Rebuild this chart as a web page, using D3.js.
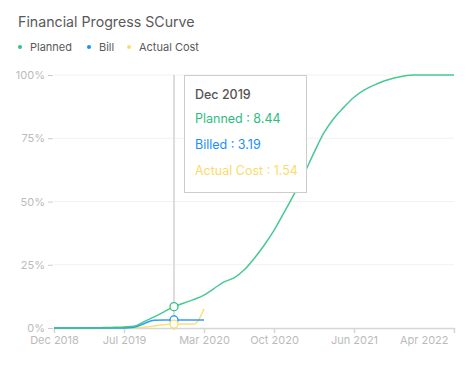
<!DOCTYPE html>
<html>
<head>
<meta charset="utf-8">
<script src="https://cdn.jsdelivr.net/npm/d3@7"></script>
<style>
  body { margin: 0; background: #fff; font-family: Inter, "Noto Sans", sans-serif; }
  svg text { font-family: Inter, "Noto Sans", sans-serif; }
</style>
</head>
<body>
<script>
// monthly categories, Dec 2018 .. Apr 2022
var months = ["2018-12","2019-01","2019-02","2019-03","2019-04","2019-05","2019-06","2019-07","2019-08","2019-09","2019-10","2019-11","2019-12",
              "2020-01","2020-02","2020-03","2020-04","2020-05","2020-06","2020-07","2020-08","2020-09","2020-10","2020-11","2020-12",
              "2021-01","2021-02","2021-03","2021-04","2021-05","2021-06","2021-07","2021-08","2021-09","2021-10","2021-11","2021-12",
              "2022-01","2022-02","2022-03","2022-04"];

var planned = [0, 0, 0, 0.05, 0.1, 0.15, 0.25, 0.4, 0.7, 2.5, 4.4, 6.4, 8.44,
               9.9, 11.3, 13.0, 15.6, 18.2, 19.8, 22.9, 27.4, 32.6, 38.6, 45.6, 52.8,
               60.8, 69.3, 77.2, 82.9, 87.3, 91.2, 94.0, 96.0, 97.6, 98.8, 99.6, 100,
               100, 100, 100, 100];
var billed = [0, 0, 0, 0, 0, 0, 0, 0, 0.3, 1.7, 3.1, 3.19, 3.19, 3.19, 3.19, 3.19];
var actual = [0, 0, 0, 0, 0, 0, 0, 0, 0.1, 0.3, 0.8, 1.3, 1.54, 1.54, 1.54, 7.5];

var xTicks = ["2018-12","2019-07","2020-03","2020-10","2021-06","2022-04"];
var xTickLabels = ["Dec 2018","Jul 2019","Mar 2020","Oct 2020","Jun 2021","Apr 2022"];
var yTicks = [0, 25, 50, 75, 100];

var hoverMonth = "2019-12";
var hoverLabel = "Dec 2019";

var colors = { planned: "#33c386", billed: "#1890ff", actual: "#fadc6c" };

var WIDTH = 468, HEIGHT = 371;
var svg = d3.select("body").append("svg")
  .attr("width", WIDTH).attr("height", HEIGHT);

// title + legend
svg.append("text").attr("x", 18).attr("y", 27)
  .attr("font-size", 14.2).attr("fill", "#595959").text("Financial Progress SCurve");

var legend = [
  { name: "Planned", color: colors.planned, x: 20 },
  { name: "Bill", color: colors.billed, x: 89 },
  { name: "Actual Cost", color: colors.actual, x: 129 }
];
var lg = svg.selectAll(".lg").data(legend).enter().append("g")
  .attr("transform", function(d) { return "translate(" + d.x + ",47)"; });
lg.append("circle").attr("r", 2).attr("fill", function(d) { return d.color; });
lg.append("text").attr("x", 10).attr("y", 3.5).attr("font-size", 11).attr("fill", "#595959")
  .text(function(d) { return d.name; });

var x = d3.scalePoint().domain(months).range([54, 454]);
var y = d3.scaleLinear().domain([0, 100]).range([328, 75]);

// grid
svg.append("g").selectAll("line").data(yTicks.slice(1)).enter().append("line")
  .attr("x1", 54).attr("x2", 454)
  .attr("y1", function(d) { return y(d); }).attr("y2", function(d) { return y(d); })
  .attr("stroke", "#f1f1f1");

// y axis
var yAxis = svg.append("g").attr("transform", "translate(54,0)")
  .call(d3.axisLeft(y).tickValues(yTicks).tickSize(5).tickPadding(4)
    .tickFormat(function(d) { return d + "%"; }));
yAxis.select(".domain").remove();
yAxis.selectAll(".tick line").attr("x1", -1).attr("x2", -6).attr("stroke", "#ccc");
yAxis.selectAll("text").attr("font-size", 11).attr("fill", "#bbb").attr("font-family", "Inter");

// crosshair
svg.append("line").attr("x1", x(hoverMonth)).attr("x2", x(hoverMonth))
  .attr("y1", 75).attr("y2", 330).attr("stroke", "#ddd").attr("stroke-width", 2);

// x axis
var xAxis = svg.append("g").attr("transform", "translate(0,328)")
  .call(d3.axisBottom(x).tickValues(xTicks).tickSize(5).tickSizeOuter(0).tickPadding(3)
    .tickFormat(function(d) { return xTickLabels[xTicks.indexOf(d)]; }));
xAxis.select(".domain").attr("stroke", "#d6d6d6").attr("stroke-width", 1.5);
xAxis.selectAll(".tick line").attr("stroke", "#d6d6d6").attr("stroke-width", 1.5);
xAxis.selectAll("text").attr("font-size", 11).attr("fill", "#bbb").attr("font-family", "Inter");
// last label kept inside the plot edge
xAxis.selectAll(".tick").filter(function(d) { return d === xTicks[xTicks.length - 1]; })
  .select("text").attr("text-anchor", "end").attr("x", -6);

// lines
var line = d3.line()
  .x(function(d, i) { return x(months[i]); })
  .y(function(d) { return y(d); })
  .curve(d3.curveMonotoneX);

[["actual", actual], ["billed", billed], ["planned", planned]].forEach(function(s) {
  svg.append("path").datum(s[1]).attr("d", line)
    .attr("fill", "none").attr("stroke", colors[s[0]]).attr("stroke-width", 1.5)
    .attr("stroke-opacity", 0.9);
});

// hover markers
var hi = months.indexOf(hoverMonth);
[["planned", planned[hi]], ["billed", billed[hi]], ["actual", actual[hi]]].forEach(function(s) {
  svg.append("circle").attr("cx", x(hoverMonth)).attr("cy", y(s[1])).attr("r", 4)
    .attr("fill", "#fff").attr("stroke", colors[s[0]]).attr("stroke-width", 1.3);
});

// tooltip
var tip = svg.append("g").attr("transform", "translate(184,75)");
tip.append("rect").attr("x", 0.5).attr("y", 0.5).attr("width", 122).attr("height", 117)
  .attr("fill", "#fff").attr("stroke", "#ccc");
tip.append("text").attr("x", 11).attr("y", 24).attr("font-size", 12.5).attr("font-weight", 500)
  .attr("fill", "#555").text(hoverLabel);
var tipRows = [
  { t: "Planned : " + planned[hi], c: "#2dbd7e", y: 48 },
  { t: "Billed : " + billed[hi], c: colors.billed, y: 74 },
  { t: "Actual Cost : " + actual[hi], c: colors.actual, y: 100 }
];
tip.selectAll(".row").data(tipRows).enter().append("text")
  .attr("x", 11).attr("y", function(d) { return d.y; }).attr("font-size", 12.5)
  .attr("fill", function(d) { return d.c; }).text(function(d) { return d.t; });
</script>
</body>
</html>
